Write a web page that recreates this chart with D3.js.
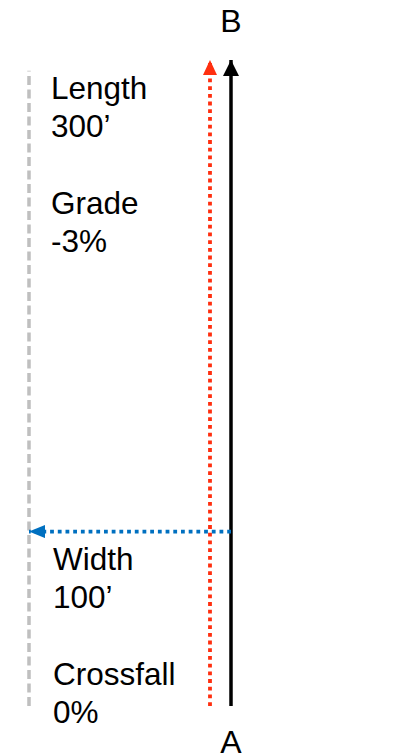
<!DOCTYPE html>
<html>
<head>
<meta charset="utf-8">
<script src="https://cdn.jsdelivr.net/npm/d3@7"></script>
<style>
  html, body { margin: 0; padding: 0; background: #fff; }
  svg { display: block; }
</style>
</head>
<body>
<div id="chart"></div>
<script>
// Segment properties (label, value)
const topLabels = ["Length", "300\u2019", "", "Grade", "-3%"];
const bottomLabels = ["Width", "100\u2019", "", "Crossfall", "0%"];
const endLabels = ["A", "B"];

// Road geometry in feet: station along the segment, offset across it
const segmentLength = 300;
const segmentWidth = 100;
const centerOffset = 0;      // black travel arrow A -> B
const laneOffset = 10.4;     // red dotted arrow
const edgeOffset = 100;      // grey dashed edge
const edgeStations = [0, 295];
const widthStation = 81;     // blue width arrow

const width = 410, height = 753;

const svg = d3.select("#chart").append("svg")
    .attr("width", width)
    .attr("height", height)
    .style("font-family", "Liberation Sans, Arial, sans-serif");

// station -> y, offset -> x
const y = d3.scaleLinear().domain([0, segmentLength]).range([706, 60]);
const x = d3.scaleLinear().domain([0, segmentWidth]).range([231, 29]);

const defs = svg.append("defs");
function marker(id, color, w, h) {
    defs.append("marker")
        .attr("id", id)
        .attr("viewBox", `0 0 ${h} ${w}`)
        .attr("refX", h).attr("refY", w / 2)
        .attr("markerWidth", h).attr("markerHeight", w)
        .attr("markerUnits", "userSpaceOnUse")
        .attr("orient", "auto")
        .append("path")
        .attr("d", `M0,0L${h},${w / 2}L0,${w}Z`)
        .attr("fill", color);
}
marker("head-black", "#000", 16, 16);
marker("head-red", "#ff2f0f", 14, 15);
marker("head-blue", "#0070c0", 13, 16);

// grey dashed edge line
svg.append("line")
    .attr("x1", x(edgeOffset)).attr("x2", x(edgeOffset))
    .attr("y1", y(edgeStations[0])).attr("y2", y(edgeStations[1]))
    .attr("stroke", "#bfbfbf")
    .attr("stroke-width", 3.5)
    .attr("stroke-dasharray", "9,4.5");

// red dotted arrow
svg.append("line")
    .attr("x1", x(laneOffset)).attr("x2", x(laneOffset))
    .attr("y1", y(0)).attr("y2", y(segmentLength))
    .attr("stroke", "#ff2f0f")
    .attr("stroke-width", 3.8)
    .attr("stroke-dasharray", "3.8,3.9")
    .attr("marker-end", "url(#head-red)");

// black solid arrow
svg.append("line")
    .attr("x1", x(centerOffset)).attr("x2", x(centerOffset))
    .attr("y1", y(0)).attr("y2", y(segmentLength))
    .attr("stroke", "#000")
    .attr("stroke-width", 3.5)
    .attr("marker-end", "url(#head-black)");

// blue dotted width arrow
svg.append("line")
    .attr("x1", x(centerOffset)).attr("x2", x(segmentWidth))
    .attr("y1", y(widthStation)).attr("y2", y(widthStation))
    .attr("stroke", "#0070c0")
    .attr("stroke-width", 3.8)
    .attr("stroke-dasharray", "3.8,3.9")
    .attr("marker-end", "url(#head-blue)");

// end labels
svg.append("text")
    .attr("x", x(centerOffset)).attr("y", 753)
    .attr("text-anchor", "middle")
    .style("font-size", "32px")
    .text(endLabels[0]);
svg.append("text")
    .attr("x", x(centerOffset)).attr("y", 32)
    .attr("text-anchor", "middle")
    .style("font-size", "32px")
    .text(endLabels[1]);

// property labels
function labelBlock(lines, lx, ly) {
    svg.append("g")
        .selectAll("text")
        .data(lines)
        .join("text")
        .attr("x", lx)
        .attr("y", (d, i) => ly + i * 38.3)
        .style("font-size", "31.5px")
        .text(d => d);
}
labelBlock(topLabels, 51, 99);
labelBlock(bottomLabels, 53, 570);
</script>
</body>
</html>
